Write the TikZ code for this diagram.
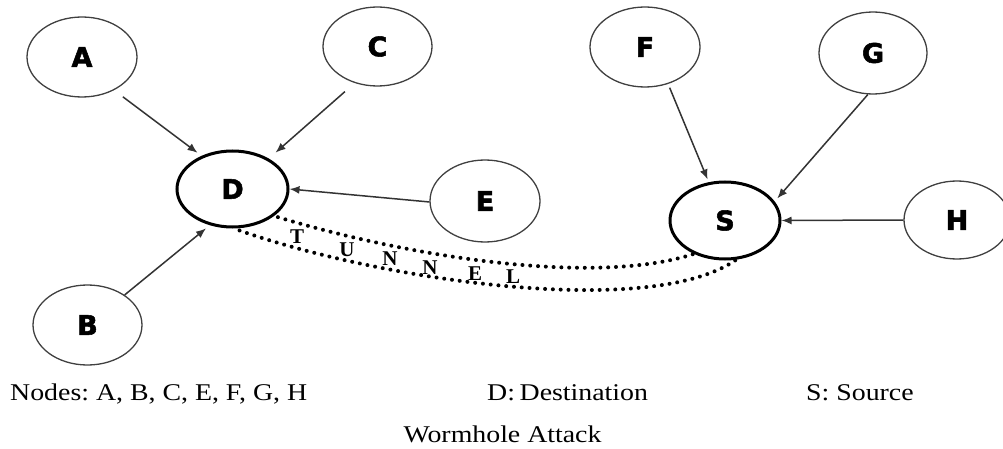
\documentclass[tikz,border=0pt]{standalone}
\usepackage{fontspec}
\setmainfont{Liberation Serif}
\newfontfamily\lblfont[FakeBold=2]{DejaVu Sans}
\usetikzlibrary{shapes.geometric,arrows.meta}
\newcommand{\wide}[1]{\scalebox{1.16}[1]{#1}}
\begin{document}
\begin{tikzpicture}[x=1pt,y=-1pt,
 plain/.style={ellipse,draw=black!75,line width=1.3pt,inner sep=0pt,minimum width=110pt,minimum height=80pt,font=\lblfont\bfseries\fontsize{27}{27}\selectfont},
 key/.style={plain,draw=black,line width=3pt},
 arr/.style={draw=black!80,line width=1.5pt,-{Latex[length=10pt,width=8pt]}},
 tun/.style={line width=4pt,dash pattern=on 0pt off 7.8pt,line cap=round},
 tl/.style={font=\bfseries\fontsize{21}{21}\selectfont,inner sep=0pt},
 captext/.style={font=\fontsize{24}{24}\selectfont,inner sep=0pt}]
\useasboundingbox (0,0) rectangle (1003,449);
\clip (0,0) rectangle (1003,449);
\fill[white] (0,0) rectangle (1003,449);
% nodes
\node[plain] (A) at (82,57) {A};
\node[plain,minimum width=109pt,minimum height=79pt] (C) at (377.5,46.5) {C};
\node[key,minimum width=111pt,minimum height=76pt] (D) at (232.5,189) {D};
\node[plain,minimum height=82pt] (E) at (485,201) {E};
\node[plain,minimum width=109pt] (B) at (87.5,325) {B};
\node[plain] (F) at (645,47) {F};
\node[plain,minimum width=108pt,minimum height=82pt] (G) at (873,53) {G};
\node[key,minimum width=110pt,minimum height=77pt] (S) at (725,220.5) {S};
\node[plain,minimum width=106pt,minimum height=78pt] (H) at (957,220) {H};
% arrows
\draw[arr,shorten <=11pt,shorten >=5pt] (A.-46) -- (D.133);
\draw[arr,shorten <=13pt,shorten >=9pt] (C.-122) -- (D.40);
\draw[arr,shorten >=5pt] (B.39) -- (D.-122);
\draw[arr] (E.181) -- (D.0);
\draw[arr,shorten <=4pt,shorten >=3pt] (F.-58) -- (S.113);
\draw[arr,shorten >=4pt] (G.-97) -- (S.21);
\draw[arr] (H.180) -- (S.0);
% tunnel
\draw[tun,shorten <=4pt] (D.-33) .. controls (420,260) and (600,285) .. (S.-133);
\draw[tun,shorten <=6pt] (D.-88) .. controls (380,280) and (650,320) .. (S.-74);
\node[tl] (t1) at (297,237) {T};
\node[tl] (t2) at (347,250) {U};
\node[tl] (t3) at (390,259) {N};
\node[tl] (t4) at (430,268) {N};
\node[tl] (t5) at (475,274) {E};
\node[tl] (t6) at (513,277) {L};
% captions
\node[captext,anchor=base west] (n1) at (10,400.5) {\wide{Nodes:\ A, B, C, E, F, G, H}};
\node[captext,anchor=base west] (n2) at (487,400.5) {\wide{D:\,Destination}};
\node[captext,anchor=base west] (n3) at (806,400.5) {\wide{S: Source}};
\node[captext,anchor=base] (n4) at (502.5,442) {\wide{Wormhole Attack}};
\end{tikzpicture}
\end{document}
